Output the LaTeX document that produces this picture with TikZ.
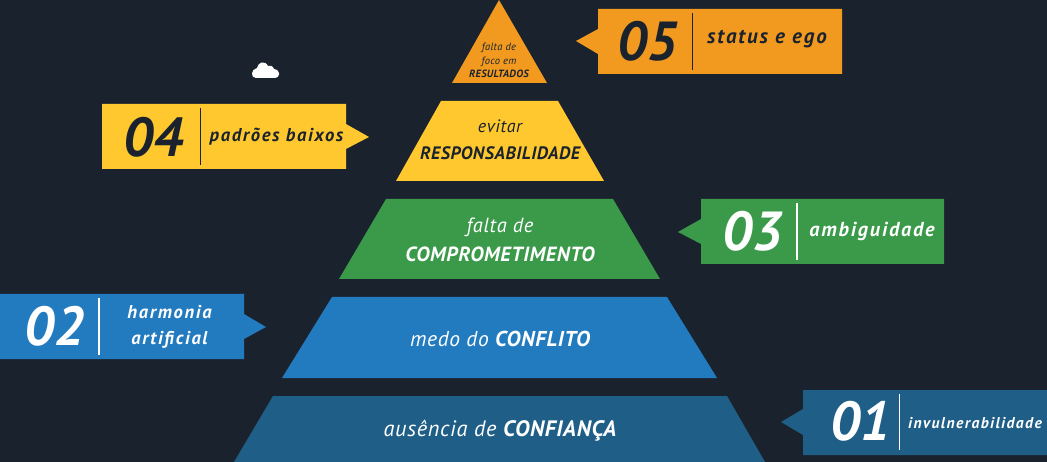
\documentclass[tikz,border=0pt]{standalone}
\usepackage{fontspec}
\setmainfont{PT Sans}
\newfontfamily\numfont{Fira Sans ExtraBold}
\newfontfamily\tagf[LetterSpace=9]{PT Sans}
\newfontfamily\pyrf[LetterSpace=3]{PT Sans}
\definecolor{bgc}{HTML}{1A232D}
\definecolor{orangec}{HTML}{F29A20}
\definecolor{yellowc}{HTML}{FFC82E}
\definecolor{greenc}{HTML}{3A9A4A}
\definecolor{bluec}{HTML}{237BBF}
\definecolor{navyc}{HTML}{1F5F87}
\tikzset{
 txt/.style={inner sep=0pt,align=center,font=\pyrf\itshape\fontsize{#1}{#1}\selectfont},
 tagtxt/.style={inner sep=0pt,align=center,font=\tagf\bfseries\itshape\fontsize{#1}{#1}\selectfont},
 num/.style={inner sep=0pt,font=\fontsize{55}{55}\selectfont\bfseries\itshape},
 rule/.style={line width=1.9pt},
}
\newcommand{\emphb}[1]{{\bfseries #1}}
\begin{document}
\begin{tikzpicture}[x=1pt,y=-1pt]
\useasboundingbox (0,0) rectangle (1047,462);
\fill[bgc] (0,0) rectangle (1047,462);
% pyramid
\fill[orangec] (499,0) -- (547,83) -- (452,83) -- cycle;
\fill[yellowc] (441,101) -- (558,101) -- (604,181) -- (396,181) -- cycle;
\fill[greenc] (386,199) -- (613,199) -- (660,279) -- (339,279) -- cycle;
\fill[bluec] (332,297) -- (667,297) -- (717,378) -- (282,378) -- cycle;
\fill[navyc] (273,396) -- (727,396) -- (765,462) -- (234,462) -- cycle;
\node[txt=10.5,text=bgc] (t5) at (499,60.5) {falta de\\[3pt]foco em\\[3pt]\emphb{RESULTADOS}};
\node[txt=18,text=bgc] (t4) at (500,140) {evitar\\[9.5pt]\emphb{RESPONSABILIDADE}};
\node[txt=20.5,text=white] (t3) at (500,240) {falta de\\[9pt]\emphb{COMPROMETIMENTO}};
\node[txt=21.5,text=white] (t2) at (500,339) {medo do \emphb{CONFLITO}};
\node[txt=22.3,text=white] (t1) at (500,431) {ausência de \emphb{CONFIANÇA}};
% cloud
\fill[white] (256,78) -- (274,78)
  .. controls (281,78) and (281,70) .. (274,69)
  .. controls (273,66) and (270,65) .. (268,66)
  .. controls (265,60) and (258,62) .. (257,68)
  .. controls (251,69) and (250,78) .. (256,78) -- cycle;
% tags
\fill[orangec] (598,9) -- (842,9) -- (842,74) -- (598,74) -- (598,54) -- (576,41) -- (598,29) -- cycle;
\draw[rule,bgc] (692.5,13) -- (692.5,70);
\node[num,text=bgc] (n5) at (647,41) {05};
\node[tagtxt=21,text=bgc] (l5) at (767,39) {status e ego};
\fill[yellowc] (102,104) -- (346,104) -- (346,124) -- (369,137) -- (346,149) -- (346,169) -- (102,169) -- cycle;
\draw[rule,bgc] (200.5,108) -- (200.5,165);
\node[num,text=bgc] (n4) at (153,137) {04};
\node[tagtxt=18.6,text=bgc] (l4) at (276.5,137) {padrões baixos};
\fill[greenc] (701,199) -- (944,199) -- (944,264) -- (701,264) -- (701,244) -- (678,232) -- (701,219) -- cycle;
\draw[rule,white] (797,203) -- (797,260);
\node[num,text=white] (n3) at (752,231) {03};
\node[tagtxt=20.2,text=white] (l3) at (872,231) {ambiguidade};
\fill[bluec] (0,294) -- (244,294) -- (244,314) -- (266,327) -- (244,339) -- (244,359) -- (0,359) -- cycle;
\draw[rule,white] (99,298) -- (99,355);
\node[num,text=white] (n2) at (54,326) {02};
\node[tagtxt=18.5,text=white] (l2) at (169.5,327) {harmonia\\[8pt]artificial};
\fill[navyc] (803,390) -- (1047,390) -- (1047,455) -- (803,455) -- (803,435) -- (781,422) -- (803,409) -- cycle;
\draw[rule,white] (899.5,394) -- (899.5,450);
\node[num,text=white] (n1) at (860,421) {01};
\node[tagtxt=15.6,text=white] (l1) at (975,423) {invulnerabilidade};
\end{tikzpicture}
\end{document}
